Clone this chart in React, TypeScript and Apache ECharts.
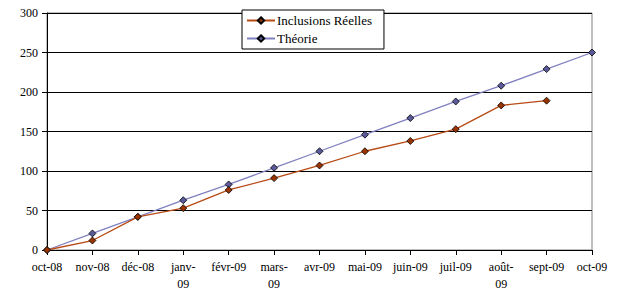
import React, { useEffect, useRef } from "react";
import * as echarts from "echarts";

const categories = ["oct-08", "nov-08", "déc-08", "janv-\n09", "févr-09", "mars-\n09", "avr-09", "mai-09", "juin-09", "juil-09", "août-\n09", "sept-09", "oct-09"];
const inclusionsReelles = [0, 12, 42, 53, 76, 91, 107, 125, 138, 153, 183, 189, null];
const theorie = [0, 21, 42, 63, 83, 104, 125, 146, 167, 188, 208, 229, 250];
const yTicks = { min: 0, max: 300, interval: 50 };

const FONT = "Liberation Serif";

export default function App() {
  const ref = useRef<HTMLDivElement>(null);
  useEffect(() => {
    const chart = echarts.init(ref.current!, null, { renderer: "svg" });
    chart.setOption({
      animation: false,
      backgroundColor: "#ffffff",
      textStyle: { fontFamily: FONT },
      grid: {
        left: 47,
        right: 32,
        top: 13,
        bottom: 45,
        show: true,
        borderColor: "#808080",
        borderWidth: 1,
      },
      legend: {
        left: 242,
        top: 10,
        orient: "vertical",
        itemGap: 5,
        itemWidth: 28,
        itemHeight: 8,
        padding: [4, 12, 4, 4],
        backgroundColor: "#ffffff",
        borderColor: "#000000",
        borderWidth: 1,
        borderRadius: 0,
        textStyle: { fontFamily: FONT, fontSize: 13, color: "#000000", padding: [0, 0, 0, -3] },
        data: ["Inclusions Réelles", "Théorie"],
      },
      xAxis: {
        type: "category",
        boundaryGap: false,
        data: categories,
        axisLine: { lineStyle: { color: "#000000", width: 1 } },
        axisTick: { show: true, alignWithLabel: true, length: 5, lineStyle: { color: "#000000" } },
        axisLabel: { interval: 0, fontFamily: FONT, fontSize: 12, color: "#000000", margin: 8, lineHeight: 17 },
        splitLine: { show: false },
      },
      yAxis: {
        type: "value",
        min: yTicks.min,
        max: yTicks.max,
        interval: yTicks.interval,
        axisLine: { show: true, lineStyle: { color: "#000000", width: 1 } },
        axisTick: { show: true, length: 5, lineStyle: { color: "#000000" } },
        axisLabel: { fontFamily: FONT, fontSize: 12, color: "#000000", margin: 9 },
        splitLine: { show: true, lineStyle: { color: "#000000", width: 1 } },
      },
      series: [
        {
          name: "Inclusions Réelles",
          type: "line",
          data: inclusionsReelles,
          symbol: "diamond",
          symbolSize: 7,
          color: "#993300",
          lineStyle: { color: "#B84A14", width: 1.3 },
          itemStyle: { color: "#993300", borderColor: "#000000", borderWidth: 0.8 },
          z: 3,
        },
        {
          name: "Théorie",
          type: "line",
          data: theorie,
          symbol: "diamond",
          symbolSize: 7,
          color: "#333399",
          lineStyle: { color: "#8080C0", width: 1.3 },
          itemStyle: { color: "#5A5A9A", borderColor: "#000000", borderWidth: 0.8 },
          z: 2,
        },
      ],
    });
    return () => chart.dispose();
  }, []);
  return <div ref={ref} style={{ width: 624, height: 295, position: "absolute", left: 0, top: 0 }} />;
}
